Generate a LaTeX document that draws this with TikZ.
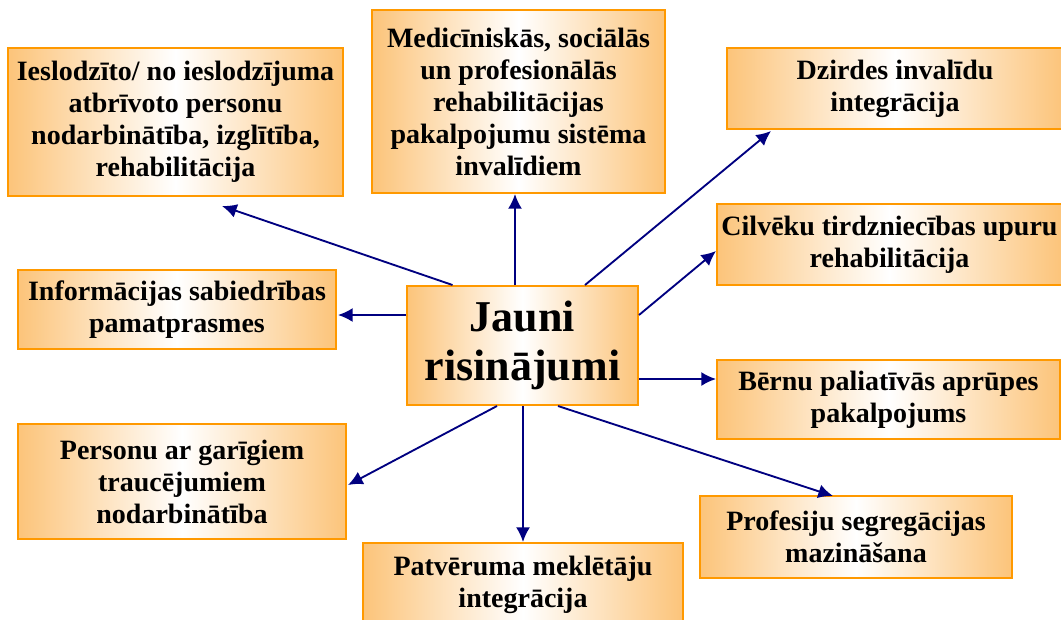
\documentclass[tikz,border=0pt]{standalone}
\usepackage{fontspec}
\setmainfont{Liberation Serif}
\usetikzlibrary{arrows.meta,calc}
\definecolor{boxfill}{RGB}{252,196,122}
\definecolor{boxline}{RGB}{255,153,0}
\definecolor{arrownavy}{RGB}{0,0,128}
\tikzset{
  box/.style={draw=boxline, line width=1.5pt, left color=boxfill, right color=boxfill,
    middle color=white, align=center, inner sep=0pt,
    font=\fontsize{21}{24}\selectfont\bfseries},
  link/.style={-{Latex[length=11pt,width=10.5pt]}, line width=1.4pt, arrownavy}
}
\begin{document}
\begin{tikzpicture}[x=0.75pt, y=-0.75pt]
  \useasboundingbox (0,0) rectangle (1061,619);
  \node[box, minimum width=251.25pt, minimum height=111pt] (1) at (175.5,122)
    {Ieslodzīto/ no ieslodzījuma\\atbrīvoto personu\\nodarbinātība, izglītība,\\rehabilitācija};
  \node[box, minimum width=219.75pt, minimum height=137.25pt] (2) at (518.5,101.5)
    {Medicīniskās, sociālās\\un profesionālās\\rehabilitācijas\\pakalpojumu sistēma\\invalīdiem};
  \node[box, minimum width=252pt, minimum height=60.75pt] (3) at (895,88.5)
    {Dzirdes invalīdu\\integrācija};
  \node[box, minimum width=258.75pt, minimum height=60.75pt] (4) at (889.5,244.5)
    {Cilvēku tirdzniecības upuru\\rehabilitācija};
  \node[box, minimum width=238.5pt, minimum height=59.25pt] (5) at (177,309.5)
    {Informācijas sabiedrības\\pamatprasmes};
  \node[box, minimum width=173.25pt, minimum height=89.25pt,
    font=\fontsize{33}{37}\selectfont\bfseries] (6) at (522.5,345.5)
    {Jauni\\risinājumi};
  \node[box, minimum width=257.25pt, minimum height=59.25pt] (7) at (888.5,399.5)
    {Bērnu paliatīvās aprūpes\\pakalpojums};
  \node[box, minimum width=246pt, minimum height=86.25pt] (8) at (182,481.5)
    {Personu ar garīgiem\\traucējumiem\\nodarbinātība};
  \node[box, minimum width=240pt, minimum height=63pt] (9) at (523,585)
    {Patvēruma meklētāju\\integrācija};
  \node[box, minimum width=234pt, minimum height=61.5pt] (10) at (856,537)
    {Profesiju segregācijas\\mazināšana};
  \path[link]
  ($(6.north)+(-70,0)$) edge ($(1.south)+(46.5,9)$)
  ($(6.north)+(-7.5,0)$) edge ($(2.south)+(-3.5,0)$)
  ($(6.north)+(62.5,0)$) edge ($(3.south)+(-124,1)$)
  ($(6.east)+(0,-30.5)$) edge ($(4.west)+(0,6.5)$)
  ($(6.west)+(0,-30.5)$) edge ($(5.east)+(1,5.5)$)
  ($(6.east)+(0,33.5)$) edge ($(7.west)+(0,-20.5)$)
  ($(6.south)+(-25.5,0)$) edge ($(8.east)+(1,3.5)$)
  ($(6.south)+(0.5,0)$) edge ($(9.north)+(0,0)$)
  ($(6.south)+(35.5,0)$) edge ($(10.north)+(-23,1)$);
\end{tikzpicture}
\end{document}
